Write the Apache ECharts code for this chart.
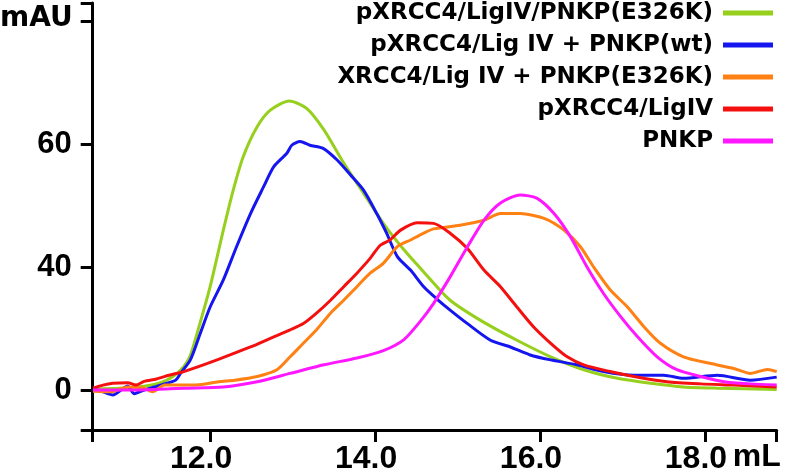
<!DOCTYPE html>
<html>
<head>
<meta charset="utf-8">
<script src="https://cdn.jsdelivr.net/npm/echarts@6/dist/echarts.min.js"></script>
<style>html,body{margin:0;padding:0;background:#fff}#c{width:787px;height:474px}</style>
</head>
<body>
<div id="c"></div>
<script>
// Series names (legend order)
var seriesNames = ['pXRCC4/LigIV/PNKP(E326K)', 'pXRCC4/Lig IV + PNKP(wt)', 'XRCC4/Lig IV + PNKP(E326K)', 'pXRCC4/LigIV', 'PNKP'];
var seriesColors = ['#96cf1c', '#1515f0', '#ff8013', '#f51010', '#ff17ff'];

// X ticks (mL) and Y ticks (tick positions and their printed labels)
var xTicks = [12, 14, 16, 18];
var yTickValues = [0, 20, 40];
var yTickLabels = ['0', '40', '60'];

// [elution volume mL, absorbance]
var greenData = [[10.58,0.2],[10.9,0.3],[11.2,0.6],[11.4,1.2],[11.55,2.2],[11.68,3.8],[11.76,5.6],[11.88,11.0],[12.0,16.8],[12.16,26],[12.28,32.5],[12.4,37.9],[12.57,42.8],[12.73,45.5],[12.96,47.0],[13.17,45.8],[13.38,42.3],[13.62,36.9],[13.86,32],[14.1,27.1],[14.35,22.8],[14.59,19.2],[14.91,14.6],[15.32,11.0],[15.72,8.1],[16.13,5.4],[16.53,3.3],[16.94,1.9],[17.34,1.1],[17.74,0.5],[18.15,0.3],[18.87,0.1]];
var blueData = [[10.58,0.2],[10.7,-0.3],[10.82,-0.8],[10.95,0.3],[11.0,0.65],[11.08,-0.6],[11.2,0],[11.4,0.8],[11.58,1.6],[11.64,2.7],[11.76,4.9],[11.88,9.2],[12.0,13.5],[12.16,17.9],[12.32,23.3],[12.49,28.7],[12.65,33.1],[12.77,36.3],[12.93,38.5],[12.99,39.8],[13.09,40.4],[13.21,39.8],[13.37,39.3],[13.54,37.4],[13.7,35.0],[13.86,32.5],[14.02,28.7],[14.14,25.5],[14.27,21.7],[14.43,19.5],[14.59,16.8],[14.75,14.8],[14.91,13.0],[15.12,10.8],[15.4,8.1],[15.64,7.0],[15.88,5.7],[16.13,4.9],[16.45,4.1],[16.77,3.0],[17.14,2.4],[17.5,2.4],[17.74,1.9],[18.15,2.4],[18.55,1.6],[18.87,2.1]];
var orangeData = [[10.58,-0.2],[10.8,-0.3],[11.0,0.5],[11.2,0.3],[11.3,-0.3],[11.45,0.8],[11.7,0.8],[11.9,0.9],[12.1,1.35],[12.3,1.6],[12.57,2.2],[12.81,3.3],[12.97,5.4],[13.13,7.6],[13.29,9.8],[13.46,12.5],[13.62,14.6],[13.78,16.8],[13.94,19.0],[14.1,20.6],[14.27,23.3],[14.43,24.4],[14.59,25.5],[14.71,26.2],[15.03,26.8],[15.32,27.6],[15.52,28.7],[15.76,28.7],[16.05,27.9],[16.29,26.0],[16.49,23.3],[16.65,20.0],[16.85,16.3],[17.06,13.5],[17.26,10.3],[17.46,7.6],[17.74,5.4],[18.07,4.3],[18.35,3.5],[18.55,2.7],[18.76,3.35],[18.87,3.0]];
var redData = [[10.58,0.3],[10.7,0.8],[10.82,1.1],[11.0,1.2],[11.1,0.8],[11.2,1.4],[11.35,1.8],[11.5,2.4],[11.68,3.0],[11.96,4.3],[12.24,5.7],[12.49,7.0],[12.73,8.4],[12.97,9.8],[13.13,10.8],[13.29,12.5],[13.46,14.6],[13.62,16.8],[13.78,19.0],[13.94,21.4],[14.06,23.5],[14.18,24.4],[14.31,26.0],[14.51,27.2],[14.71,27.1],[14.91,25.5],[15.12,23.0],[15.32,19.5],[15.52,16.8],[15.72,13.5],[15.92,10.3],[16.13,7.6],[16.33,5.4],[16.53,4.1],[16.85,3.0],[17.14,2.2],[17.54,1.35],[17.95,1.0],[18.35,0.8],[18.87,0.5]];
var magentaData = [[10.58,0],[11.0,0],[11.5,0.2],[11.68,0.3],[12.16,0.5],[12.57,1.35],[12.97,2.7],[13.38,4.1],[13.78,5.2],[14.1,6.4],[14.35,8.2],[14.55,11.2],[14.71,14.1],[14.91,18.4],[15.12,23.3],[15.32,27.6],[15.52,30.4],[15.76,31.7],[15.96,31.2],[16.17,28.7],[16.37,24.9],[16.57,20.0],[16.77,15.7],[16.98,11.9],[17.18,8.7],[17.42,5.4],[17.66,3.3],[17.95,2.2],[18.23,1.35],[18.55,1.0],[18.87,0.8]];

var allData = [greenData, blueData, orangeData, redData, magentaData];

var X_MIN = 10.576, X_MAX = 18.87, Y_MIN = -6.5, Y_MAX = 62.93;

var chart = echarts.init(document.getElementById('c'), null, {renderer: 'canvas'});
var series = seriesNames.map(function (n, i) {
  return {
    name: n, type: 'line', data: allData[i], showSymbol: false, smooth: 0.25,
    lineStyle: {color: seriesColors[i], width: 3}, itemStyle: {color: seriesColors[i]},
    animation: false
  };
});

chart.setOption({
  animation: false,
  title: {
    text: 'mAU', left: 0, top: 5, padding: 0,
    textStyle: {fontFamily: 'DejaVu Sans', fontWeight: 'bold', fontSize: 28, color: '#000'}
  },
  legend: {
    orient: 'vertical', right: 14, top: 1, padding: 0, align: 'right',
    itemWidth: 50, itemHeight: 5, itemGap: 8, icon: 'rect',
    data: seriesNames,
    textStyle: {fontFamily: 'DejaVu Sans', fontWeight: 'bold', fontSize: 23, lineHeight: 24, color: '#000', padding: [0, 5, 0, 0]}
  },
  grid: {left: 92.7, right: 10.3, top: 3, bottom: 44, containLabel: false, outerBoundsMode: 'none'},
  xAxis: {
    type: 'value', min: X_MIN, max: X_MAX, splitNumber: 5, minInterval: 2, maxInterval: 2,
    axisLine: {show: true, onZero: false, lineStyle: {color: '#000', width: 3}},
    axisTick: {show: true, length: 12, lineStyle: {color: '#000', width: 3}},
    axisLabel: {
      customValues: xTicks, margin: 13, padding: [0, 18, 0, 0],
      fontFamily: 'Liberation Sans', fontWeight: 'bold', fontSize: 32, color: '#000',
      formatter: function (v) { return v.toFixed(1); }
    },
    splitLine: {show: false},
    name: 'mL', nameLocation: 'end', nameGap: -44, nameMoveOverlap: false,
    nameTextStyle: {fontFamily: 'Liberation Sans', fontWeight: 'bold', fontSize: 32, color: '#000', verticalAlign: 'top', align: 'left', padding: [11, 0, 0, 0]}
  },
  yAxis: {
    type: 'value', min: Y_MIN, max: Y_MAX, splitNumber: 3, minInterval: 20, maxInterval: 20,
    axisLine: {show: true, onZero: false, lineStyle: {color: '#000', width: 3}},
    axisTick: {show: true, length: 12, lineStyle: {color: '#000', width: 3}},
    axisLabel: {
      customValues: yTickValues, margin: 21,
      fontFamily: 'Liberation Sans', fontWeight: 'bold', fontSize: 31, color: '#000',
      formatter: function (v) { var k = yTickValues.indexOf(v); return k >= 0 ? yTickLabels[k] : ''; }
    },
    splitLine: {show: false}
  },
  series: series
});
</script>
</body>
</html>
